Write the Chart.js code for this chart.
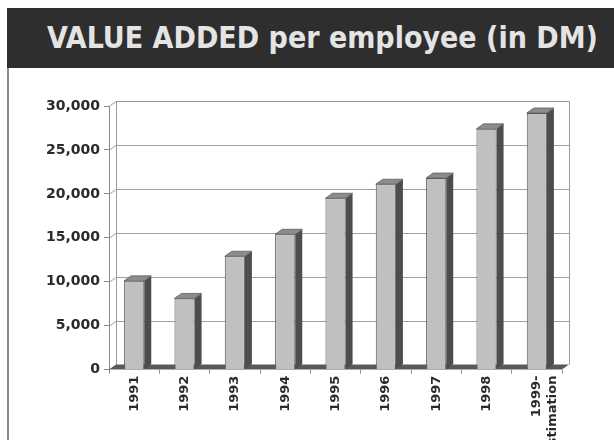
<!DOCTYPE html>
<html>
<head>
<meta charset="utf-8">
<script src="https://cdn.jsdelivr.net/npm/chart.js@4"></script>
<style>
  html, body { margin: 0; padding: 0; background: #fff; }
  body { width: 614px; height: 440px; position: relative; overflow: hidden; }
  #header {
    position: absolute; left: 7px; top: 8px; width: 607px; height: 60px;
    background: #2e2e2e; color: #e4e4e4;
    font-family: "DejaVu Sans Condensed", "DejaVu Sans", sans-serif; font-weight: bold;
    font-size: 30px; line-height: 60px; white-space: nowrap;
  }
  #header span { position: absolute; left: 40px; top: 0; }
  #frame { position: absolute; left: 7px; top: 68px; width: 2px; height: 372px; background: #8a8a8a; }
  #wrap { position: absolute; left: 9px; top: 70px; width: 605px; height: 386px; }
</style>
</head>
<body>
<div id="header"><span>VALUE ADDED per employee (in DM)</span></div>
<div id="frame"></div>
<div id="wrap"><canvas id="chart"></canvas></div>
<script>
// data
const years = ['1991', '1992', '1993', '1994', '1995', '1996', '1997', '1998', ['1999-', 'estimation']];
const valueAdded = [10100, 8100, 12900, 15400, 19500, 21100, 21800, 27400, 29200];
const yMax = 30000;
const yStep = 5000;

// depth of the 3d look
const DX = 7;
const DY = -5;

const threeD = {
    id: 'threeD',
    beforeDatasetsDraw(chart) {
        const { ctx, chartArea: a, scales: { y } } = chart;
        ctx.save();
        // back wall gridlines
        ctx.strokeStyle = '#a0a0a0';
        ctx.lineWidth = 1;
        for (let v = yStep; v <= yMax; v += yStep) {
            const py = Math.round(y.getPixelForValue(v) + DY) + 0.5;
            ctx.beginPath();
            ctx.moveTo(a.left + DX, py);
            ctx.lineTo(a.right + DX, py);
            ctx.stroke();
            // side wall slant
            ctx.beginPath();
            ctx.moveTo(a.left, py - DY);
            ctx.lineTo(a.left + DX, py);
            ctx.stroke();
        }
        // wall outlines
        ctx.strokeStyle = '#9a9a9a';
        ctx.beginPath();
        ctx.moveTo(a.left + DX + 0.5, a.bottom + DY);
        ctx.lineTo(a.left + DX + 0.5, a.top + DY + 0.5);
        ctx.lineTo(a.right + DX + 0.5, a.top + DY + 0.5);
        ctx.lineTo(a.right + DX + 0.5, a.bottom + DY);
        ctx.stroke();
        // floor
        ctx.fillStyle = '#5a5a5a';
        ctx.beginPath();
        ctx.moveTo(a.left, a.bottom);
        ctx.lineTo(a.left + DX, a.bottom + DY);
        ctx.lineTo(a.right + DX, a.bottom + DY);
        ctx.lineTo(a.right, a.bottom);
        ctx.closePath();
        ctx.fill();
        ctx.restore();
    },
    afterDatasetsDraw(chart) {
        const { ctx } = chart;
        const meta = chart.getDatasetMeta(0);
        ctx.save();
        meta.data.forEach(bar => {
            const { x, y, base, width } = bar.getProps(['x', 'y', 'base', 'width'], true);
            const l = x - width / 2;
            const r = x + width / 2;
            // side face
            ctx.fillStyle = '#4d4d4d';
            ctx.beginPath();
            ctx.moveTo(r, y);
            ctx.lineTo(r + DX, y + DY);
            ctx.lineTo(r + DX, base + DY);
            ctx.lineTo(r, base);
            ctx.closePath();
            ctx.fill();
            // top face
            ctx.fillStyle = '#8c8c8c';
            ctx.beginPath();
            ctx.moveTo(l, y);
            ctx.lineTo(l + DX, y + DY);
            ctx.lineTo(r + DX, y + DY);
            ctx.lineTo(r, y);
            ctx.closePath();
            ctx.fill();
            ctx.strokeStyle = '#5e5e5e';
            ctx.lineWidth = 0.8;
            ctx.stroke();
        });
        ctx.restore();
    }
};

new Chart(document.getElementById('chart'), {
    type: 'bar',
    data: {
        labels: years,
        datasets: [{
            data: valueAdded,
            backgroundColor: '#c0c0c0',
            borderColor: '#5a5a5a',
            borderWidth: 1,
            borderSkipped: 'bottom',
            barPercentage: 0.4,
            categoryPercentage: 1
        }]
    },
    options: {
        responsive: true,
        maintainAspectRatio: false,
        animation: false,
        layout: { padding: { top: 36, right: 52, left: 33, bottom: 0 } },
        plugins: {
            legend: { display: false },
            tooltip: { enabled: false }
        },
        scales: {
            y: {
                min: 0,
                max: yMax,
                ticks: {
                    stepSize: yStep,
                    color: '#2a2a2a',
                    padding: 4,
                    font: { family: 'DejaVu Sans', weight: 'bold', size: 14 }
                },
                grid: { drawOnChartArea: false, tickLength: 5, color: '#8a8a8a' },
                border: { color: '#8a8a8a' }
            },
            x: {
                ticks: {
                    minRotation: 90,
                    maxRotation: 90,
                    autoSkip: false,
                    color: '#2a2a2a',
                    padding: 2,
                    font: { family: 'DejaVu Sans', weight: 'bold', size: 13 }
                },
                grid: { offset: true, drawOnChartArea: false, tickLength: 4, color: '#8a8a8a' },
                border: { display: false }
            }
        }
    },
    plugins: [threeD]
});
</script>
</body>
</html>
